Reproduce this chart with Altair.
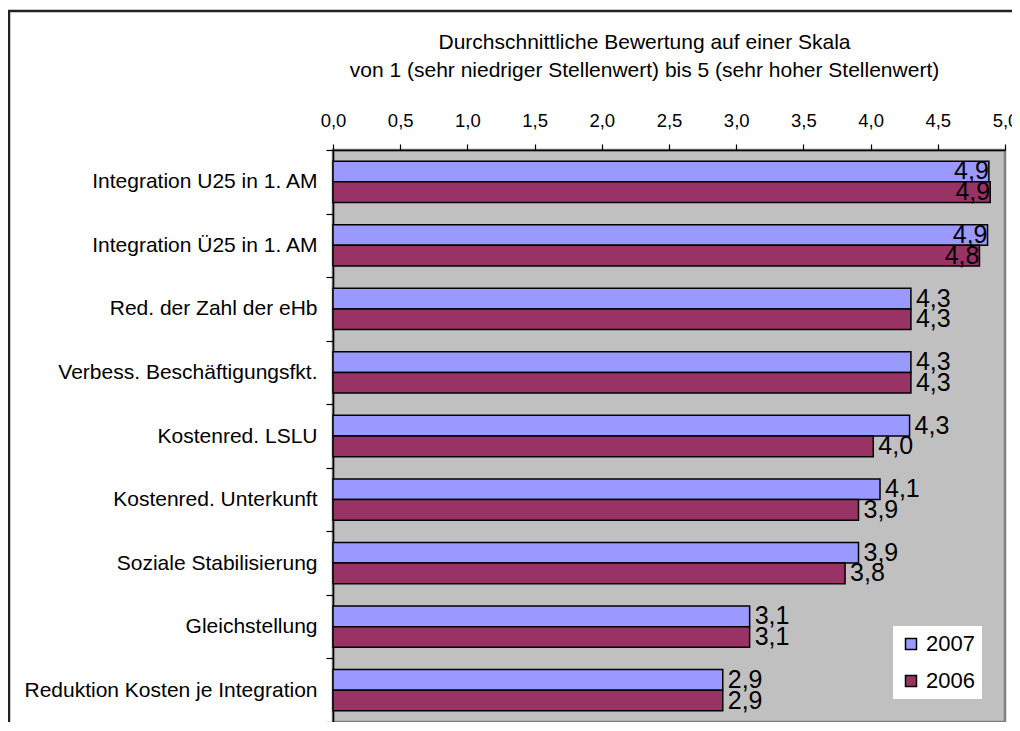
import altair as alt
import pandas as pd

categories = [
    "Integration U25 in 1. AM",
    "Integration Ü25 in 1. AM",
    "Red. der Zahl der eHb",
    "Verbess. Beschäftigungsfkt.",
    "Kostenred. LSLU",
    "Kostenred. Unterkunft",
    "Soziale Stabilisierung",
    "Gleichstellung",
    "Reduktion Kosten je Integration",
]
values_2007 = [4.88, 4.87, 4.30, 4.30, 4.29, 4.07, 3.91, 3.10, 2.90]
values_2006 = [4.89, 4.81, 4.30, 4.30, 4.02, 3.91, 3.81, 3.10, 2.90]
years = ["2007", "2006"]
colors = ["#9999FF", "#993366"]
x_ticks = [0, 0.5, 1, 1.5, 2, 2.5, 3, 3.5, 4, 4.5, 5]

rows = []
for c, v7, v6 in zip(categories, values_2007, values_2006):
    rows.append({"cat": c, "year": "2007", "value": v7})
    rows.append({"cat": c, "year": "2006", "value": v6})
df = pd.DataFrame(rows)

FONT = "Liberation Sans"

y_enc = alt.Y(
    "cat:N",
    sort=categories,
    scale=alt.Scale(paddingInner=0, paddingOuter=0),
    axis=alt.Axis(
        title=None,
        labelFontSize=21,
        labelColor="black",
        labelFont=FONT,
        labelPadding=9,
        labelLimit=400,
        tickSize=7,
        tickColor="black",
        tickWidth=1.2,
        tickBand="extent",
        domainColor="black",
        domainWidth=1.5,
    ),
)
yoff = alt.YOffset("year:N", sort=years,
                   scale=alt.Scale(paddingInner=0, paddingOuter=0.54))

x_enc = alt.X(
    "value:Q",
    scale=alt.Scale(domain=[0, 5], nice=False),
    axis=alt.Axis(
        orient="top",
        values=x_ticks,
        labelExpr="replace(format(datum.value, '.1f'), '.', ',')",
        labelFontSize=18.5,
        labelFont=FONT,
        labelColor="black",
        labelPadding=14,
        labelFlush=False,
        tickSize=6,
        tickColor="black",
        tickWidth=1.2,
        domainColor="black",
        domainWidth=1.5,
        grid=False,
        title=["Durchschnittliche Bewertung auf einer Skala",
               "von 1 (sehr niedriger Stellenwert) bis 5 (sehr hoher Stellenwert)"],
        titleFontSize=21,
        titleFont=FONT,
        titleFontWeight="normal",
        titleColor="black",
        titleLineHeight=28.5,
        titleX=311,
        titleY=-108,
        titleBaseline="middle",
        titleAlign="center",
        titleAnchor=None,
    ),
)

frame = alt.Chart(pd.DataFrame({"a": [0]})).mark_rect(
    fill=None, stroke="#222222", strokeWidth=2.5
).encode(
    x=alt.value(-324), x2=alt.value(684), y=alt.value(-139), y2=alt.value(620)
)

base = alt.Chart(df)

bars = base.mark_bar(stroke="black", strokeWidth=1.5).encode(
    y=y_enc,
    yOffset=yoff,
    x=x_enc,
    color=alt.Color(
        "year:N",
        sort=years,
        scale=alt.Scale(domain=years, range=colors),
        legend=alt.Legend(
            title=None,
            orient="none",
            legendX=560,
            legendY=476,
            fillColor="white",
            padding=7,
            labelFontSize=22,
            labelFont=FONT,
            labelColor="black",
            labelOffset=4,
            rowPadding=15,
            symbolType="square",
            symbolSize=121,
            symbolStrokeColor="black",
            symbolStrokeWidth=1.5,
            symbolOpacity=1,
        ),
    ),
)

label_base = base.transform_calculate(
    label="replace(format(datum.value, '.1f'), '.', ',')"
)

labels_out = label_base.transform_filter("datum.value <= 4.5").mark_text(
    align="left", baseline="middle", dx=5, fontSize=25, font=FONT, color="black"
).encode(
    y=alt.Y("cat:N", sort=categories),
    yOffset=alt.YOffset("year:N", sort=years),
    x="value:Q",
    text="label:N",
)

labels_in = label_base.transform_filter("datum.value > 4.5").mark_text(
    align="right", baseline="middle", dx=0, fontSize=25, font=FONT, color="black"
).encode(
    y=alt.Y("cat:N", sort=categories),
    yOffset=alt.YOffset("year:N", sort=years),
    x="value:Q",
    text="label:N",
)

chart = alt.layer(frame, bars, labels_out, labels_in).properties(
    width=672,
    height=572,
    autosize=alt.AutoSizeParams(type="none"),
    padding={"left": 325, "top": 142, "right": 7, "bottom": 0},
    background="white",
).configure_view(
    fill="#C0C0C0", stroke="#808080", strokeWidth=2.5
)

chart.save("out.html", embed_options={"renderer": "svg", "actions": False})
